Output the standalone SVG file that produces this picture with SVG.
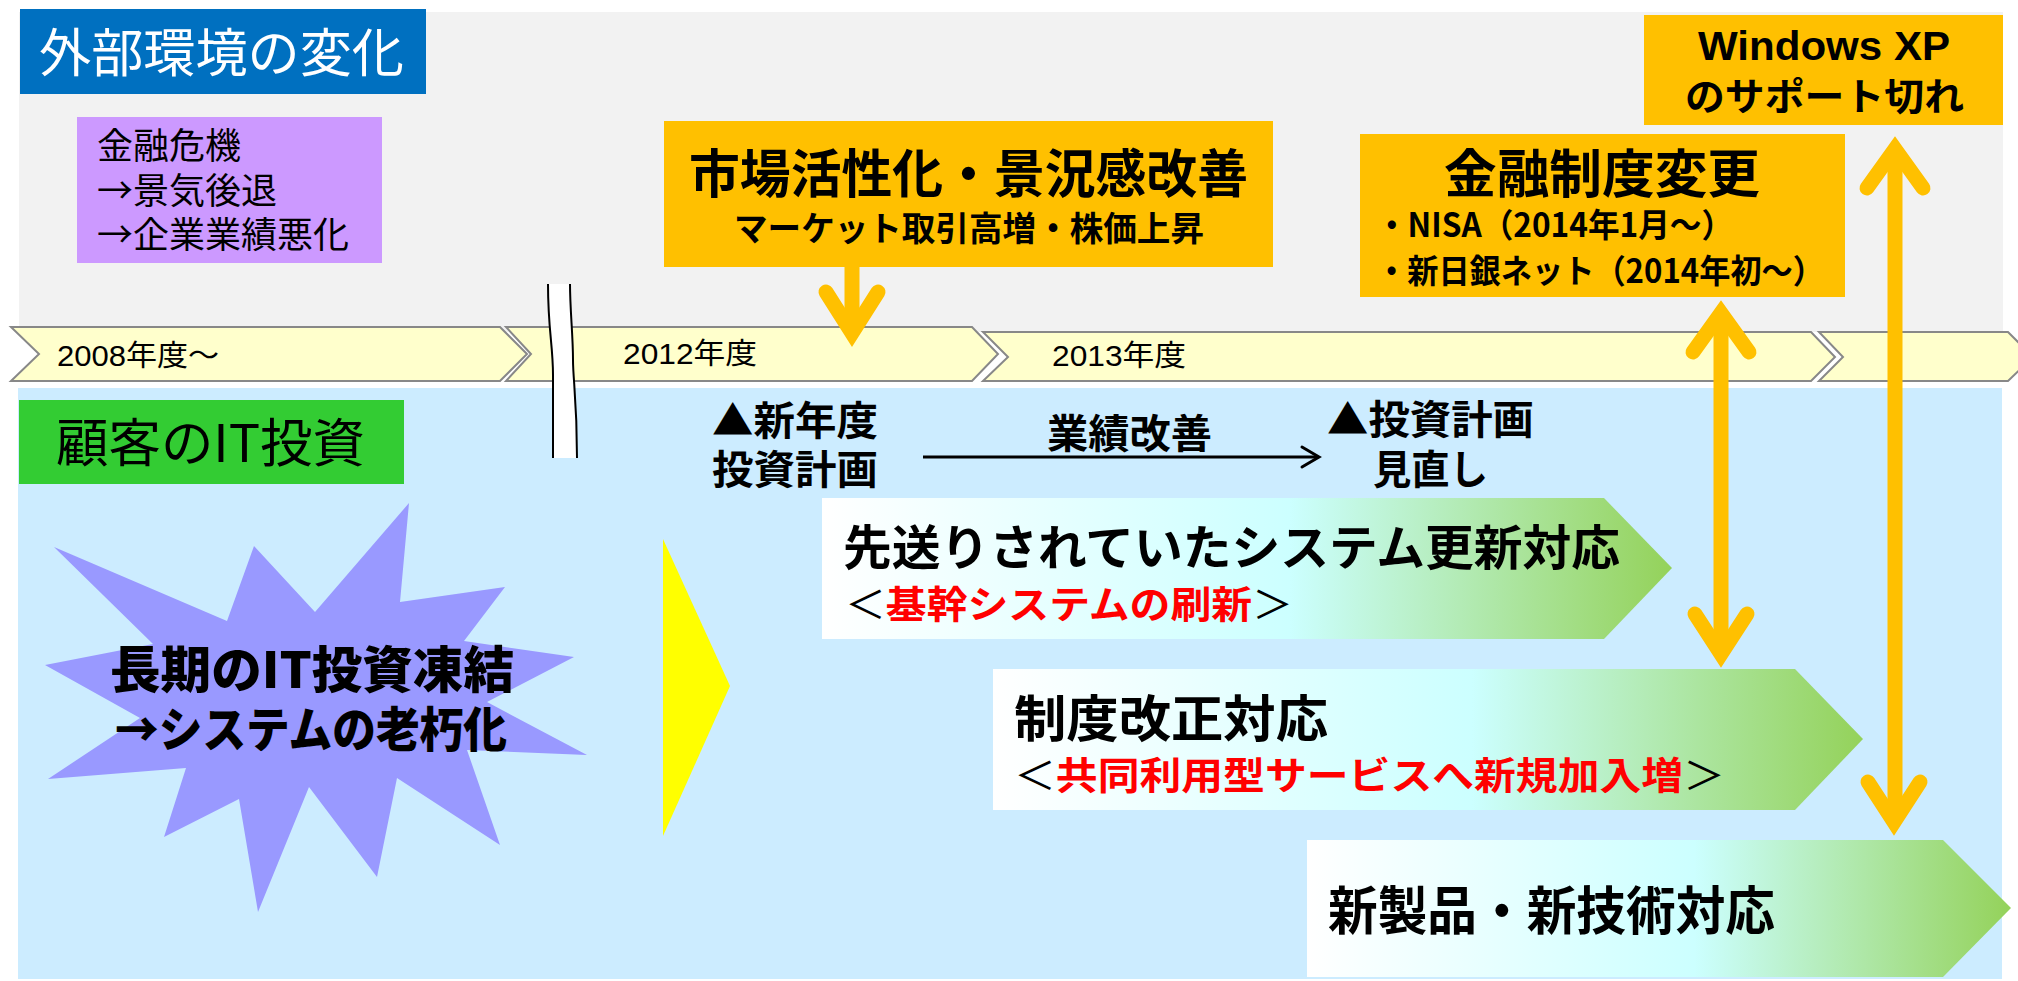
<svg xmlns="http://www.w3.org/2000/svg" width="2018" height="981" viewBox="0 0 2018 981">
<style>
.jp{font-family:"Noto Sans CJK JP","Noto Sans CJK SC",sans-serif}
.lat{font-family:"Liberation Sans","Noto Sans CJK JP",sans-serif}
.b{font-weight:bold}
.tl{fill:#FFFFCC;stroke:#888888;stroke-width:2}
.gold{fill:#FFC000}
.garrow{fill:none;stroke:#FFC000;stroke-width:15;stroke-linecap:round;stroke-linejoin:miter}
.gshaft{stroke:#FFC000;stroke-width:15;fill:none}
.red{fill:#FF0000}
</style>
<defs>
<linearGradient id="gg" x1="0" y1="0" x2="1" y2="0">
<stop offset="0" stop-color="#FFFFFF"/>
<stop offset="0.55" stop-color="#CCFFFF"/>
<stop offset="1" stop-color="#94D25A"/>
</linearGradient>
</defs>
<rect width="2018" height="981" fill="#FFFFFF"/>
<g id="bg-external"><rect x="19" y="12" width="1984" height="320" fill="#F2F2F2"/></g>
<g id="bg-customer"><rect x="18" y="388" width="1984" height="591" fill="#CCECFF"/></g>

<g id="timeline">
<polygon class="tl" points="11,327 500,327 527,354 500,381 11,381 39,354"/>
<polygon class="tl" points="506,327 972,327 998,354 972,381 506,381 531,354"/>
<polygon class="tl" points="983,332 1811,332 1835,357 1811,381 983,381 1008,357"/>
<polygon class="tl" points="1819,332 2008,332 2033,357 2008,381 1819,381 1843,357"/>
<text class="lat" x="57" y="366" font-size="29" textLength="162" lengthAdjust="spacingAndGlyphs">2008年度～</text>
<text class="lat" x="623" y="364" font-size="29" textLength="134" lengthAdjust="spacingAndGlyphs">2012年度</text>
<text class="lat" x="1052" y="366" font-size="29" textLength="134" lengthAdjust="spacingAndGlyphs">2013年度</text>
</g>

<g id="break-mark">
<path d="M548,284 C548,330 553,345 553,375 L553,458 L577,458 C577,400 573,380 573,360 C573,335 570,310 570,284 Z" fill="#FFFFFF"/>
<path d="M548,284 C548,330 553,345 553,375 L553,458" fill="none" stroke="#000000" stroke-width="2"/>
<path d="M570,284 C570,310 573,335 573,360 C573,380 577,400 577,458" fill="none" stroke="#000000" stroke-width="2"/>
</g>

<g id="header-external">
<rect x="20" y="9" width="406" height="85" fill="#0070C0"/>
<text class="jp" x="39" y="72" font-size="52" fill="#FFFFFF" textLength="365" lengthAdjust="spacingAndGlyphs">外部環境の変化</text>
</g>

<g id="crisis">
<rect x="77" y="117" width="305" height="146" fill="#CC99FF"/>
<text class="jp" font-size="36" fill="#000000">
<tspan x="97" y="159">金融危機</tspan>
<tspan x="97" y="204">→景気後退</tspan>
<tspan x="97" y="248">→企業業績悪化</tspan>
</text>
</g>

<g id="market">
<rect class="gold" x="664" y="121" width="609" height="146"/>
<text class="jp b" x="689" y="193" font-size="52" textLength="559" lengthAdjust="spacingAndGlyphs">市場活性化・景況感改善</text>
<text class="jp b" x="734" y="241" font-size="34" textLength="470" lengthAdjust="spacingAndGlyphs">マーケット取引高増・株価上昇</text>
</g>

<g id="finance-rule">
<rect class="gold" x="1360" y="134" width="485" height="163"/>
<text class="jp b" x="1444" y="193" font-size="52" textLength="316" lengthAdjust="spacingAndGlyphs">金融制度変更</text>
<text class="jp b" x="1376" y="237" font-size="33" textLength="357" lengthAdjust="spacingAndGlyphs">・NISA（2014年1月～）</text>
<text class="jp b" x="1376" y="283" font-size="33" textLength="448" lengthAdjust="spacingAndGlyphs">・新日銀ネット（2014年初～）</text>
</g>

<g id="winxp">
<rect class="gold" x="1644" y="15" width="359" height="110"/>
<text class="lat b" x="1698" y="60" font-size="40" textLength="252" lengthAdjust="spacingAndGlyphs">Windows XP</text>
<text class="jp b" x="1685" y="110" font-size="38" textLength="279" lengthAdjust="spacingAndGlyphs">のサポート切れ</text>
</g>

<g id="header-customer">
<rect x="19" y="400" width="385" height="84" fill="#33CC33"/>
<text class="jp" x="56" y="462" font-size="52" textLength="309" lengthAdjust="spacingAndGlyphs">顧客のIT投資</text>
</g>

<g id="freeze">
<polygon fill="#9999FF" points="54,547 227,621 254,546 315,612 409,503 400,602 505,587 464,641 574,657 487,702 587,755 467,750 500,845 397,778 377,877 309,787 258,912 239,799 164,837 186,768 48,779 140,718 45,665 153,644"/>
<text class="jp" font-weight="900" x="110" y="688" font-size="50" textLength="404" lengthAdjust="spacingAndGlyphs">長期のIT投資凍結</text>
<text class="jp" font-weight="900" x="115" y="747" font-size="48" textLength="392" lengthAdjust="spacingAndGlyphs">→システムの老朽化</text>
</g>

<g id="transition"><polygon fill="#FFFF00" points="663,539 730,686 663,836"/></g>

<g id="plan-new">
<text class="jp b" font-size="40">
<tspan x="712" y="435" textLength="166" lengthAdjust="spacingAndGlyphs">▲新年度</tspan>
<tspan x="712" y="484" textLength="166" lengthAdjust="spacingAndGlyphs">投資計画</tspan>
</text>
</g>
<g id="plan-review">
<text class="jp b" font-size="40">
<tspan x="1327" y="434" textLength="207" lengthAdjust="spacingAndGlyphs">▲投資計画</tspan>
<tspan x="1373" y="484" textLength="115" lengthAdjust="spacingAndGlyphs">見直し</tspan>
</text>
</g>

<g id="renewal">
<polygon fill="url(#gg)" points="822,498 1604,498 1672,568 1604,639 822,639"/>
<text class="jp b" x="843" y="565" font-size="48" textLength="777" lengthAdjust="spacingAndGlyphs">先送りされていたシステム更新対応</text>
<text class="jp" x="845" y="618" font-size="38" textLength="448" lengthAdjust="spacingAndGlyphs">＜<tspan class="red b">基幹システムの刷新</tspan>＞</text>
</g>

<g id="regulation">
<polygon fill="url(#gg)" points="993,669 1795,669 1863,739 1795,810 993,810"/>
<text class="jp b" x="1014" y="737" font-size="50" textLength="314" lengthAdjust="spacingAndGlyphs">制度改正対応</text>
<text class="jp" x="1014" y="789" font-size="38" textLength="711" lengthAdjust="spacingAndGlyphs">＜<tspan class="red b">共同利用型サービスへ新規加入増</tspan>＞</text>
</g>

<g id="newtech">
<polygon fill="url(#gg)" points="1307,840 1943,840 2011,908 1943,977 1307,977"/>
<text class="jp b" x="1328" y="930" font-size="52" textLength="447" lengthAdjust="spacingAndGlyphs">新製品・新技術対応</text>
</g>

<g id="connectors">
<line x1="923" y1="457" x2="1318" y2="457" stroke="#000000" stroke-width="3"/>
<polyline points="1302,447 1319,457 1302,467" fill="none" stroke="#000000" stroke-width="3" stroke-linecap="round" stroke-linejoin="miter"/>
<text class="jp b" x="1047" y="448" font-size="40" textLength="165" lengthAdjust="spacingAndGlyphs">業績改善</text>

<line class="gshaft" x1="852" y1="267" x2="852" y2="330"/>
<polyline class="garrow" points="826,292 852,333 878,292"/>

<line class="gshaft" x1="1721" y1="316" x2="1721" y2="651"/>
<polyline class="garrow" points="1693,352 1721,313 1749,352"/>
<polyline class="garrow" points="1695,614 1721,654 1747,614"/>

<line class="gshaft" x1="1895" y1="150" x2="1895" y2="821"/>
<polyline class="garrow" points="1867,188 1895,149 1923,188"/>
<polyline class="garrow" points="1868,782 1894,822 1920,782"/>
</g>
</svg>
